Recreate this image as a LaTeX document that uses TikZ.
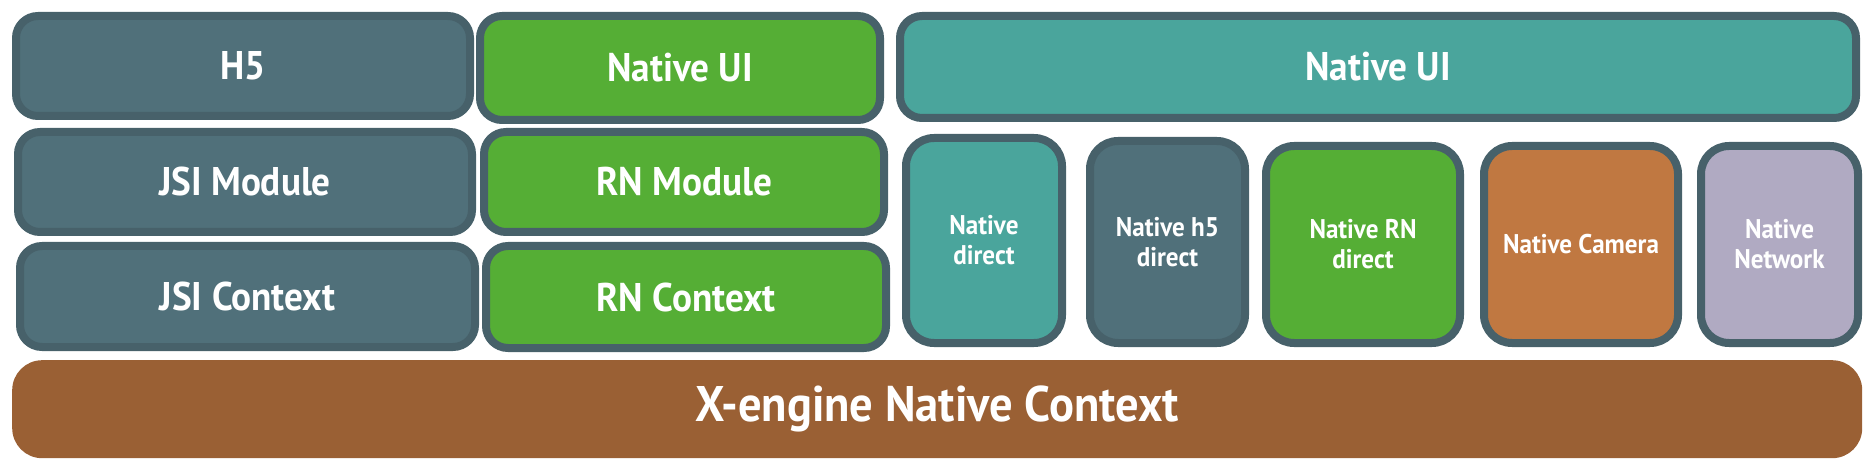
\documentclass[tikz,border=0pt]{standalone}
\usepackage{fontspec}
\setmainfont{PT Sans}
\newfontfamily\dinfont{PT Sans}[FakeStretch=0.93]
\definecolor{bord}{HTML}{47616A}
\definecolor{slate}{HTML}{50707A}
\definecolor{grn}{HTML}{55AE35}
\definecolor{teal}{HTML}{4AA59C}
\definecolor{cam}{HTML}{C07841}
\definecolor{lav}{HTML}{B0AAC2}
\definecolor{brn}{HTML}{9A6034}
\begin{document}
\begin{tikzpicture}[x=1pt,y=-1pt,
  blk/.style={draw=bord, line width=8pt, rounded corners=22pt, text=white,
    inner sep=0pt, align=center, anchor=north west},
  bigtxt/.style={font=\dinfont\bfseries\fontsize{40}{44}\selectfont},
  smalltxt/.style={font=\dinfont\bfseries\fontsize{27}{30}\selectfont},
  tall/.style={blk, smalltxt, rounded corners=28pt}]
\useasboundingbox (0,0) rectangle (1868,462);
% column 1
\node[blk, bigtxt, fill=slate, minimum width=454pt, minimum height=100pt] (h5) at (12,12) {H5};
\node[blk, bigtxt, fill=slate, minimum width=454pt, minimum height=100pt] (jsimod) at (14,128) {JSI Module};
\node[blk, bigtxt, fill=slate, minimum width=455pt, minimum height=101pt] (jsictx) at (16,242) {JSI Context};
% column 2
\node[blk, bigtxt, fill=grn, minimum width=400pt, minimum height=104pt] (rnui) at (476,12) {Native UI};
\node[blk, bigtxt, fill=grn, minimum width=400pt, minimum height=100pt] (rnmod) at (480,128) {RN Module};
\node[blk, bigtxt, fill=grn, minimum width=400pt, minimum height=102pt] (rnctx) at (482,242) {RN Context};
% column 3
\node[blk, bigtxt, fill=teal, minimum width=956pt, minimum height=102pt] (natui) at (896,12) {Native UI};
\node[tall, fill=teal, minimum width=156pt, minimum height=205pt] (natdir) at (902,134) {Native\\direct};
\node[tall, fill=slate, minimum width=155pt, minimum height=202pt] (nath5) at (1086,137) {Native h5\\direct};
\node[tall, fill=grn, minimum width=194pt, minimum height=197pt] (natrn) at (1262,142) {Native RN\\direct};
\node[tall, fill=cam, minimum width=194pt, minimum height=197pt] (natcam) at (1480,142) {Native Camera};
\node[tall, fill=lav, minimum width=157pt, minimum height=197pt] (natnet) at (1697,142) {Native\\Network};
% bottom bar
\node[fill=brn, rounded corners=30pt, anchor=north west, minimum width=1850pt, minimum height=98pt,
  inner sep=0pt, text=white, font=\dinfont\bfseries\fontsize{50}{54}\selectfont] (xeng) at (12,360) {X-engine Native Context};
\end{tikzpicture}
\end{document}
